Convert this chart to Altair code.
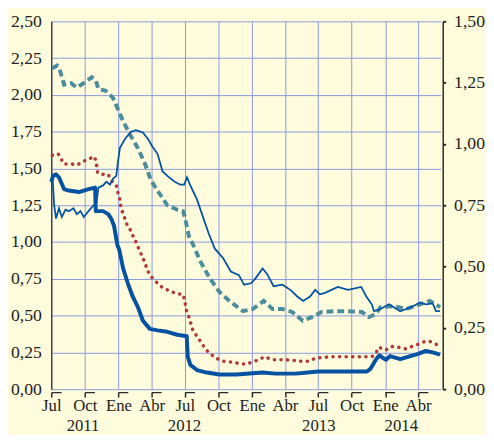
import altair as alt
import pandas as pd

# ---- data ----
# thick dark-blue line (left axis)
thick_dates = ["2011-07-01", "2011-07-06", "2011-07-14", "2011-07-22", "2011-08-05", "2011-08-18",
               "2011-09-15", "2011-10-11", "2011-10-29", "2011-10-31", "2011-11-20", "2011-12-04",
               "2011-12-12", "2011-12-20", "2011-12-29", "2012-01-03", "2012-01-14", "2012-01-28",
               "2012-02-09", "2012-02-23", "2012-03-08", "2012-03-27", "2012-04-17", "2012-05-14",
               "2012-06-10", "2012-07-06", "2012-07-09", "2012-07-16", "2012-08-03", "2012-08-30",
               "2012-10-04", "2012-11-19", "2013-01-30", "2013-03-06", "2013-04-30", "2013-06-03",
               "2013-07-01", "2013-08-15", "2013-10-27", "2013-11-12", "2013-11-22", "2013-12-06",
               "2013-12-16", "2013-12-27", "2014-01-03", "2014-01-14", "2014-02-11", "2014-03-11",
               "2014-04-01", "2014-04-22", "2014-05-11", "2014-05-31"]
thick_values = [1.41, 1.45, 1.46, 1.44, 1.36, 1.35,
                1.34, 1.36, 1.37, 1.21, 1.21, 1.19,
                1.16, 1.11, 0.98, 0.95, 0.82, 0.71,
                0.63, 0.56, 0.465, 0.41, 0.40, 0.39,
                0.37, 0.36, 0.22, 0.165, 0.13, 0.113,
                0.10, 0.10, 0.113, 0.106, 0.106, 0.113,
                0.12, 0.12, 0.12, 0.12, 0.14, 0.20,
                0.23, 0.21, 0.20, 0.225, 0.205, 0.225,
                0.24, 0.26, 0.25, 0.235]

# dashed teal line (left axis)
teal_dates = ["2011-07-04", "2011-07-17", "2011-07-22", "2011-08-05", "2011-08-24", "2011-09-09",
              "2011-09-28", "2011-10-20", "2011-10-31", "2011-11-07", "2011-11-26", "2011-12-09",
              "2011-12-17", "2011-12-31", "2012-01-14", "2012-02-04", "2012-02-23", "2012-03-14",
              "2012-03-30", "2012-04-17", "2012-05-14", "2012-06-10", "2012-06-26", "2012-07-01",
              "2012-07-12", "2012-07-26", "2012-08-11", "2012-09-07", "2012-10-04", "2012-10-31",
              "2012-12-07", "2013-01-03", "2013-02-02", "2013-02-26", "2013-03-25", "2013-04-21",
              "2013-05-20", "2013-06-14", "2013-07-11", "2013-08-15", "2013-09-19", "2013-10-29",
              "2013-11-17", "2013-12-06", "2013-12-19", "2014-01-24", "2014-02-28", "2014-04-06",
              "2014-05-03", "2014-05-20", "2014-05-31"]
teal_values = [2.18, 2.20, 2.19, 2.07, 2.08, 2.05,
               2.08, 2.12, 2.10, 2.04, 2.03, 2.00,
               1.98, 1.90, 1.82, 1.72, 1.64, 1.53,
               1.42, 1.35, 1.25, 1.22, 1.21, 1.17,
               1.04, 0.97, 0.875, 0.755, 0.66, 0.60,
               0.53, 0.545, 0.60, 0.545, 0.545, 0.525,
               0.465, 0.49, 0.525, 0.53, 0.53, 0.525,
               0.49, 0.51, 0.557, 0.564, 0.545, 0.577,
               0.60, 0.577, 0.557]

# dotted red line (left axis)
red_dates = ["2011-07-04", "2011-07-20", "2011-08-05", "2011-08-27", "2011-09-11", "2011-09-28",
             "2011-10-17", "2011-10-28", "2011-11-02", "2011-11-05", "2011-11-20", "2011-12-04",
             "2011-12-12", "2011-12-26", "2011-12-31", "2012-01-05", "2012-01-08", "2012-01-16",
             "2012-01-22", "2012-02-01", "2012-02-12", "2012-02-20", "2012-02-28", "2012-03-08",
             "2012-03-22", "2012-04-03", "2012-04-17", "2012-05-01", "2012-05-19", "2012-06-07",
             "2012-06-26", "2012-07-01", "2012-07-04", "2012-07-12", "2012-07-23", "2012-08-03",
             "2012-08-17", "2012-08-27", "2012-09-09", "2012-09-25", "2012-10-14", "2012-11-04",
             "2012-11-26", "2012-12-15", "2013-01-03", "2013-01-19", "2013-02-04", "2013-02-26",
             "2013-04-05", "2013-05-16", "2013-06-04", "2013-06-23", "2013-08-01", "2013-09-12",
             "2013-10-17", "2013-11-25", "2013-12-06", "2013-12-15", "2014-01-02", "2014-01-18",
             "2014-02-06", "2014-02-25", "2014-03-14", "2014-04-01", "2014-04-20", "2014-05-03",
             "2014-05-17", "2014-05-31"]
red_values = [1.59, 1.60, 1.53, 1.53, 1.525, 1.55,
              1.57, 1.58, 1.525, 1.47, 1.46, 1.46,
              1.42, 1.385, 1.33, 1.29, 1.23, 1.18,
              1.13, 1.09, 1.03, 0.99, 0.94, 0.895,
              0.80, 0.755, 0.72, 0.69, 0.67, 0.65,
              0.643, 0.60, 0.545, 0.49, 0.40, 0.36,
              0.31, 0.27, 0.24, 0.21, 0.19, 0.185,
              0.175, 0.17, 0.185, 0.20, 0.22, 0.20,
              0.20, 0.19, 0.19, 0.21, 0.22, 0.22,
              0.22, 0.22, 0.245, 0.285, 0.265, 0.29,
              0.285, 0.275, 0.29, 0.305, 0.325, 0.325,
              0.31, 0.29]

# thin blue line (right axis)
thin_dates = ["2011-07-01", "2011-07-04", "2011-07-09", "2011-07-14", "2011-07-22", "2011-07-30",
              "2011-08-09", "2011-08-18", "2011-08-31", "2011-09-09", "2011-09-19", "2011-09-28",
              "2011-10-11", "2011-10-25", "2011-11-02", "2011-11-07", "2011-11-20", "2011-11-29",
              "2011-12-09", "2011-12-17", "2011-12-26", "2011-12-31", "2012-01-05", "2012-01-19",
              "2012-02-04", "2012-02-18", "2012-03-08", "2012-03-22", "2012-04-03", "2012-04-17",
              "2012-05-01", "2012-05-14", "2012-06-03", "2012-06-19", "2012-06-29", "2012-07-07",
              "2012-07-15", "2012-08-03", "2012-08-17", "2012-09-04", "2012-09-21", "2012-10-14",
              "2012-11-04", "2012-11-26", "2012-12-10", "2012-12-29", "2013-01-11", "2013-01-30",
              "2013-02-12", "2013-03-01", "2013-03-25", "2013-04-16", "2013-05-05", "2013-05-21",
              "2013-06-09", "2013-06-23", "2013-07-06", "2013-07-20", "2013-08-24", "2013-09-21",
              "2013-10-27", "2013-11-10", "2013-11-25", "2013-12-01", "2013-12-19", "2014-01-11",
              "2014-02-11", "2014-03-18", "2014-04-06", "2014-04-22", "2014-05-11", "2014-05-20",
              "2014-05-31"]
thin_values = [0.846, 0.876, 0.75, 0.696, 0.738, 0.702,
               0.732, 0.726, 0.738, 0.714, 0.726, 0.702,
               0.726, 0.75, 0.762, 0.822, 0.831, 0.846,
               0.834, 0.858, 0.87, 0.93, 0.984, 1.02,
               1.05, 1.056, 1.047, 1.02, 0.99, 0.96,
               0.888, 0.87, 0.846, 0.834, 0.834, 0.864,
               0.834, 0.774, 0.714, 0.636, 0.573, 0.534,
               0.48, 0.465, 0.426, 0.432, 0.453, 0.492,
               0.468, 0.42, 0.426, 0.405, 0.378, 0.36,
               0.378, 0.405, 0.387, 0.393, 0.417, 0.405,
               0.417, 0.378, 0.346, 0.318, 0.327, 0.346,
               0.318, 0.338, 0.354, 0.346, 0.35, 0.318,
               0.318]

# axis texts
year_labels = ["2011", "2012", "2013", "2014"]
year_label_dates = ["2011-09-26", "2012-06-30", "2013-07-03", "2014-02-14"]
left_ticks = [0, 0.25, 0.5, 0.75, 1.0, 1.25, 1.5, 1.75, 2.0, 2.25, 2.5]
right_ticks = [0, 0.25, 0.5, 0.75, 1.0, 1.25, 1.5]
quarter_ticks = [(2011, 7), (2011, 10), (2012, 1), (2012, 4), (2012, 7), (2012, 10),
                 (2013, 1), (2013, 4), (2013, 7), (2013, 10), (2014, 1), (2014, 4)]

# ---- styling ----
BG = "#FFFCDD"
GRID = "#8A9ADC"
AX = "#2A2A2A"
BLUE = "#0652A2"
TEAL = "#4C8D9C"
RED = "#B2383A"
FONT = "Liberation Serif"
TXT = "#222222"


def frame(dates, values):
    return pd.DataFrame({"fecha": pd.to_datetime(dates), "valor": values})


x_scale = alt.Scale(domain=[alt.DateTime(year=2011, month=7, date=1),
                            alt.DateTime(year=2014, month=6, date=2)])
x_axis = alt.Axis(
    values=[alt.DateTime(year=y, month=m, date=1) for y, m in quarter_ticks],
    labelExpr="['Ene','','','Abr','','','Jul','','','Oct','',''][month(datum.value)]",
    title=None, grid=True, gridColor=GRID, gridWidth=1,
    domain=True, domainColor=AX, domainWidth=1.5, domainDash=[10, 23.9],
    ticks=True, tickSize=5, tickColor=AX, tickWidth=1.5, offset=3,
    labelFont=FONT, labelFontSize=17, labelColor=TXT, labelPadding=1,
    labelFlush=False, labelOverlap=False,
)
x_enc = alt.X("fecha:T", scale=x_scale, axis=x_axis)

fmt = "replace(format(datum.value, '.2f'), '.', ',')"
y_left = alt.Y(
    "valor:Q",
    scale=alt.Scale(domain=[0, 2.5], nice=False),
    axis=alt.Axis(values=left_ticks, labelExpr=fmt, title=None, orient="left",
                  grid=True, gridColor=GRID, gridWidth=1,
                  domain=True, domainColor=AX, domainWidth=1.2,
                  ticks=False, tickSize=0, labelPadding=10,
                  labelFont=FONT, labelFontSize=18, labelColor=TXT),
)
y_right = alt.Y(
    "valor:Q",
    scale=alt.Scale(domain=[0, 1.5], nice=False),
    axis=alt.Axis(values=right_ticks, labelExpr=fmt, title=None, orient="right",
                  grid=False, offset=2,
                  domain=True, domainColor=AX, domainWidth=1.5,
                  ticks=True, tickSize=3, tickColor=AX, tickWidth=2, labelPadding=8,
                  labelFont=FONT, labelFontSize=18, labelColor=TXT),
)

teal = alt.Chart(frame(teal_dates, teal_values)).mark_line(
    color=TEAL, strokeWidth=4, strokeDash=[7, 4]
).encode(x=x_enc, y=y_left)

red = alt.Chart(frame(red_dates, red_values)).mark_line(
    color=RED, strokeWidth=3.6, strokeDash=[0.1, 6.6], strokeCap="round"
).encode(x=x_enc, y=y_left)

thick = alt.Chart(frame(thick_dates, thick_values)).mark_line(
    color=BLUE, strokeWidth=4, strokeJoin="round"
).encode(x=x_enc, y=y_left)

years = alt.Chart(pd.DataFrame({"fecha": pd.to_datetime(year_label_dates),
                                "anio": year_labels})).mark_text(
    font=FONT, fontSize=17, color=TXT, baseline="alphabetic", align="center"
).encode(x=x_enc, y=alt.value(416), text="anio:N")

thin = alt.Chart(frame(thin_dates, thin_values)).mark_line(
    color=BLUE, strokeWidth=1.8
).encode(x=x_enc, y=y_right)

left = alt.layer(teal, red, thick, years)

chart = alt.layer(left, thin).resolve_scale(y="independent").properties(
    width=396, height=374,
    padding={"left": 44, "top": 10, "right": 46, "bottom": 43},
    autosize=alt.AutoSizeParams(type="none"),
).configure(background=BG).configure_view(stroke=None, fill=BG)

chart.save("out.html", embed_options={"renderer": "svg", "actions": False})
